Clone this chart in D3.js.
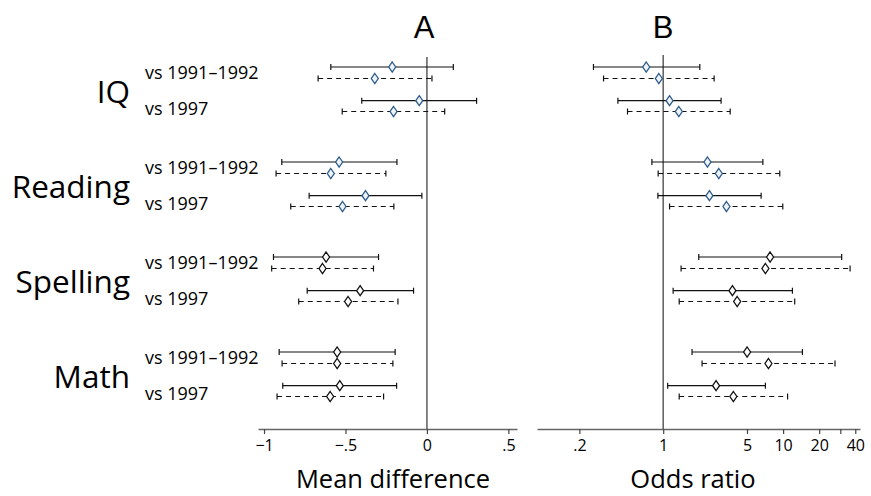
<!DOCTYPE html>
<html><head><meta charset="utf-8">
<script src="https://cdn.jsdelivr.net/npm/d3@7"></script>
<style>body{margin:0;background:#fff}svg{display:block}text{font-family:"Open Sans",sans-serif;fill:#000}</style>
</head><body><svg id="c" width="871" height="496"></svg>
<script>
const groups = ["IQ", "Reading", "Spelling", "Math"];
const comparisons = ["vs 1991–1992", "vs 1997"];
// order: IQ-91, IQ-97, Reading-91, Reading-97, Spelling-91, Spelling-97, Math-91, Math-97
const mdSolidEst = [-0.213, -0.047, -0.539, -0.377, -0.619, -0.410, -0.551, -0.535];
const mdSolidLo  = [-0.590, -0.400, -0.891, -0.723, -0.942, -0.735, -0.907, -0.885];
const mdSolidHi  = [ 0.162,  0.305, -0.184, -0.031, -0.297, -0.082, -0.195, -0.186];
const mdDashEst  = [-0.320, -0.205, -0.590, -0.518, -0.641, -0.484, -0.551, -0.594];
const mdDashLo   = [-0.668, -0.520, -0.926, -0.836, -0.953, -0.787, -0.889, -0.920];
const mdDashHi   = [ 0.031,  0.109, -0.252, -0.203, -0.328, -0.178, -0.209, -0.266];
const orSolidEst = [0.722, 1.13, 2.34, 2.43, 7.79, 3.78, 5.01, 2.76];
const orSolidLo  = [0.262, 0.419, 0.805, 0.903, 1.98, 1.21, 1.74, 1.09];
const orSolidHi  = [2.02, 3.04, 6.78, 6.56, 30.8, 11.96, 14.5, 7.12];
const orDashEst  = [0.92, 1.35, 2.91, 3.37, 7.12, 4.14, 7.55, 3.85];
const orDashLo   = [0.318, 0.504, 0.908, 1.13, 1.41, 1.36, 2.11, 1.36];
const orDashHi   = [2.66, 3.62, 9.38, 9.94, 36.2, 12.5, 27.1, 10.9];
const mdTicks = [-1, -0.5, 0, 0.5];
const mdTickLabels = ["−1", "−.5", "0", ".5"];
const orTicks = [0.2, 1, 5, 10, 20, 30, 40];
const orTickLabels = [".2", "1", "5", "10", "20", "", "40"];

const svg = d3.select("#c");
const axisY = 429;
const xA = d3.scaleLinear().domain([-1.037, 0.553]).range([258, 517]);
const xB = d3.scaleLog().domain([0.0886, 43.8]).range([537, 860]);
const gy = d3.scaleLinear().domain([0, 3]).range([67, 352]);
const rowOff = [[0, 11.5], [33.7, 44.5]]; // [comparison][model]

function rowY(i, model) { const g = Math.floor(i / 2), c = i % 2; return gy(g) + rowOff[c][model]; }

svg.selectAll("text.grp").data(groups).join("text").attr("class", "grp")
  .attr("x", 130).attr("y", (d, i) => gy(i) + 36).attr("text-anchor", "end")
  .style("font-size", "31.5px").text(d => d);
groups.forEach((g, gi) => {
  comparisons.forEach((c, ci) => {
    svg.append("text").attr("x", 145).attr("y", gy(gi) + (ci === 0 ? 12 : 48))
      .style("font-size", "18px").text(c);
  });
});

function panel(x, series, ticks, labels, title, axisTitle, titleX, axisTitleX, refVal, refTop) {
  const ax = d3.axisBottom(x).tickValues(ticks).tickFormat((d, i) => labels[i]).tickSize(5).tickSizeOuter(0).tickPadding(6);
  const g = svg.append("g").attr("transform", `translate(0,${axisY})`).call(ax);
  g.select(".domain").attr("stroke", "#666").attr("stroke-width", 1.4);
  g.selectAll(".tick line").attr("stroke", "#444").attr("stroke-width", 1.2);
  g.selectAll(".tick text").style("font-family", "Open Sans").style("font-size", "16px").attr("fill", "#000");
  svg.append("line").attr("x1", x(refVal)).attr("x2", x(refVal)).attr("y1", refTop).attr("y2", axisY)
    .attr("stroke", "#666").attr("stroke-width", 1.6);
  series.forEach((s, m) => {
    s.est.forEach((e, i) => {
      const y = rowY(i, m);
      const gg = svg.append("g");
      gg.append("line").attr("x1", x(s.lo[i])).attr("x2", x(s.hi[i])).attr("y1", y).attr("y2", y)
        .attr("stroke", "#111").attr("stroke-width", 1.2).attr("stroke-dasharray", m ? "5,4" : null);
      [s.lo[i], s.hi[i]].forEach(v => gg.append("line").attr("x1", x(v)).attr("x2", x(v))
        .attr("y1", y - 3).attr("y2", y + 3).attr("stroke", "#111").attr("stroke-width", 1.2));
      const blue = i < 4;
      const cx = x(e);
      gg.append("path").attr("d", `M${cx},${y - 5}L${cx + 3.5},${y}L${cx},${y + 5}L${cx - 3.5},${y}Z`)
        .attr("fill", blue ? "#eef3f8" : "#fff").attr("stroke", blue ? "#2b5a8a" : "#111").attr("stroke-width", 1.3);
    });
  });
  svg.append("text").attr("x", titleX).attr("y", 38).attr("text-anchor", "middle")
    .style("font-family", "'Liberation Sans Narrow','Liberation Sans',sans-serif").style("font-size", "31px").text(title);
  svg.append("text").attr("x", axisTitleX).attr("y", 488)
    .attr("text-anchor", "middle").style("font-size", "25.5px").text(axisTitle);
}

panel(xA, [{ est: mdSolidEst, lo: mdSolidLo, hi: mdSolidHi }, { est: mdDashEst, lo: mdDashLo, hi: mdDashHi }],
  mdTicks, mdTickLabels, "A", "Mean difference", 424, 393, 0, 57);
panel(xB, [{ est: orSolidEst, lo: orSolidLo, hi: orSolidHi }, { est: orDashEst, lo: orDashLo, hi: orDashHi }],
  orTicks, orTickLabels, "B", "Odds ratio", 663, 693, 1, 55);
</script></body></html>
